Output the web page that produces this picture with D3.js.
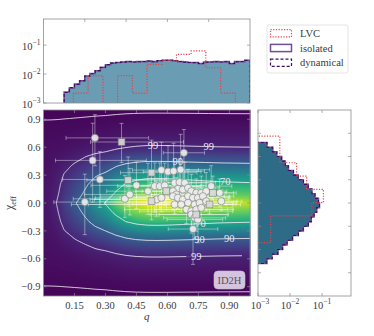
<!DOCTYPE html>
<html>
<head>
<meta charset="utf-8">
<script src="https://cdn.jsdelivr.net/npm/d3@7"></script>
<style>
  body { margin: 0; background: #fff; }
  text { font-family: "Liberation Serif", "DejaVu Serif", serif; fill: #3a3a3a; }
</style>
</head>
<body>
<svg id="chart" width="374" height="336"></svg>
<script>
// ---- data ----
// marginal of q (top panel), bins 0.1 .. 1.0 every 0.025
const qBinStart = 0.1, qBinWidth = 0.025
const isolatedQ = [0.0024, 0.0033, 0.0045, 0.0058, 0.0085, 0.0105, 0.013, 0.017, 0.021, 0.024,
    0.025, 0.026, 0.027, 0.026, 0.027, 0.027, 0.028, 0.027, 0.029, 0.030,
    0.030, 0.029, 0.027, 0.026, 0.025, 0.025, 0.023, 0.026, 0.026, 0.027,
    0.026, 0.027, 0.023, 0.027, 0.027, 0.030]
const dynamicalQ = [0.0023, 0.0034, 0.0044, 0.0059, 0.0086, 0.0103, 0.0132, 0.0168, 0.0212, 0.0238,
    0.0252, 0.0258, 0.0272, 0.0262, 0.0268, 0.0272, 0.0282, 0.0268, 0.0292, 0.0298,
    0.0302, 0.0288, 0.0272, 0.0258, 0.0252, 0.0248, 0.0232, 0.0258, 0.0262, 0.0268,
    0.0262, 0.0268, 0.0232, 0.0268, 0.0272, 0.0298]
const lvcQEdges = [0.145, 0.216, 0.288, 0.359, 0.430, 0.501, 0.573, 0.644, 0.715, 0.786, 0.858, 0.929, 1.0]
const lvcQ = [0.0022, 0.0088, 0, 0.0088, 0.0022, 0.0216, 0.030, 0.048, 0.063, 0.0165, 0.0022, 0]

// marginal of chi_eff (right panel), bins -0.65 .. 0.65 every 0.05 (bottom to top)
const chiBinStart = -0.65, chiBinWidth = 0.05
const isolatedChi = [0.0019, 0.0027, 0.0042, 0.0058, 0.008, 0.012, 0.018, 0.026, 0.037, 0.046,
    0.056, 0.068, 0.083, 0.077, 0.060, 0.048, 0.037, 0.026, 0.018, 0.0127,
    0.0089, 0.007, 0.0055, 0.0038, 0.0029, 0.0019]
const dynamicalChi = [0.0018, 0.0028, 0.0041, 0.0059, 0.0081, 0.0118, 0.0182, 0.0258, 0.0372, 0.0458,
    0.0562, 0.0678, 0.0828, 0.0772, 0.0598, 0.0482, 0.0368, 0.0262, 0.0178, 0.0128,
    0.0088, 0.0071, 0.0054, 0.0039, 0.0028, 0.0019]
const lvcChiEdges = [-0.425, -0.282, -0.139, 0.004, 0.147, 0.29, 0.433, 0.576, 0.72]
const lvcChi = [0.0025, 0.0025, 0.048, 0.11, 0.033, 0.016, 0.0048, 0.0048]

// joint density (relative): q profile x chi profile + a chi-only floor
const densQ = [0, 0.05, 0.1, 0.15, 0.2, 0.25, 0.3, 0.35, 0.4, 0.45, 0.5, 0.55, 0.6, 0.65, 0.7, 0.75, 0.8, 0.85, 0.9, 0.95, 1.0]
const densQVal = [0.005, 0.025, 0.09, 0.17, 0.27, 0.4, 0.5, 0.68, 0.84, 0.94, 0.99, 1.0, 0.99, 0.97, 0.95, 0.93, 0.91, 0.89, 0.88, 0.87, 0.86]
const densChi = [-1, -0.9, -0.8, -0.7, -0.6, -0.5, -0.4, -0.3, -0.2, -0.1, 0, 0.1, 0.2, 0.3, 0.4, 0.5, 0.6, 0.7, 0.8, 0.9, 1]
const densChiVal = [0.0012, 0.0025, 0.007, 0.016, 0.032, 0.085, 0.19, 0.37, 0.58, 0.78, 1.0, 0.75, 0.6, 0.43, 0.26, 0.13, 0.045, 0.022, 0.01, 0.0035, 0.0012]
const densFloorVal = [0.0025, 0.0048, 0.007, 0.009, 0.011, 0.013, 0.014, 0.015, 0.016, 0.016, 0.016,
    0.016, 0.016, 0.015, 0.014, 0.013, 0.011, 0.009, 0.007, 0.0048, 0.0025]
const contourLevels = [0.005, 0.05, 0.2, 0.5]
const contourNames = ['', '99', '90', '70']

// observed events
const evQ = [0.249, 0.378, 0.238, 0.680, 0.273, 0.410, 0.523, 0.571, 0.603, 0.630,
    0.664, 0.200, 0.450, 0.394, 0.418, 0.506, 0.539, 0.563, 0.587, 0.635,
    0.659, 0.684, 0.595, 0.651, 0.675, 0.700, 0.523, 0.547, 0.571, 0.627,
    0.643, 0.716, 0.740, 0.764, 0.788, 0.812, 0.820, 0.853, 0.627, 0.651,
    0.675, 0.700, 0.724, 0.748, 0.772, 0.635, 0.667, 0.700, 0.732, 0.756,
    0.788, 0.804, 0.861, 0.692, 0.716, 0.740, 0.764, 0.716, 0.732, 0.748,
    0.724, 0.740]
const evChi = [0.700, 0.656, 0.458, 0.540, 0.253, 0.245, 0.326, 0.354, 0.337, 0.343,
    0.358, 0.010, 0.190, 0.045, 0.092, 0.127, 0.181, 0.181, 0.189, 0.217,
    0.224, 0.217, 0.127, 0.153, 0.145, 0.163, 0.019, 0.038, 0.056, 0.127,
    0.092, 0.127, 0.109, 0.109, 0.127, 0.181, 0.109, 0.109, 0.073, 0.056,
    0.038, 0.073, 0.056, 0.056, 0.073, -0.016, -0.016, 0.002, -0.016, 0.002,
    0.019, -0.016, 0.019, -0.070, -0.088, -0.070, -0.052, -0.124, -0.160, -0.178,
    -0.280, -0.124]
const evShape = ['c', 's', 'c', 'c', 'c', 's', 's', 'c', 'c', 'c',
    'c', 'c', 'c', 'c', 'c', 'c', 'c', 'c', 'c', 'c',
    'c', 'c', 's', 'c', 'c', 'c', 's', 'c', 'c', 'c',
    'c', 'c', 'c', 'c', 'c', 'c', 's', 'c', 'c', 'c',
    'c', 'c', 'c', 'c', 'c', 'c', 'c', 'c', 'c', 'c',
    'c', 's', 'c', 'c', 'c', 'c', 'c', 'c', 'c', 'c',
    'c', 's']
const qErrLo = [0.14, 0.15, 0.18, 0.10, 0.18, 0.20, 0.15, 0.14, 0.12, 0.12,
    0.10, 0.15, 0.22, 0.25, 0.22, 0.20, 0.18, 0.16, 0.15, 0.12,
    0.12, 0.10, 0.15, 0.12, 0.10, 0.10, 0.25, 0.30, 0.20, 0.15,
    0.14, 0.12, 0.10, 0.10, 0.10, 0.10, 0.12, 0.10, 0.35, 0.40,
    0.45, 0.25, 0.30, 0.20, 0.15, 0.50, 0.45, 0.40, 0.30, 0.25,
    0.20, 0.18, 0.15, 0.30, 0.25, 0.20, 0.20, 0.20, 0.15, 0.15,
    0.12, 0.18]
const qErrHi = [0.26, 0.30, 0.26, 0.10, 0.32, 0.25, 0.22, 0.18, 0.16, 0.15,
    0.14, 0.30, 0.25, 0.30, 0.28, 0.25, 0.22, 0.20, 0.20, 0.18,
    0.15, 0.15, 0.20, 0.18, 0.15, 0.15, 0.30, 0.25, 0.25, 0.20,
    0.18, 0.15, 0.12, 0.12, 0.10, 0.10, 0.10, 0.08, 0.25, 0.20,
    0.22, 0.20, 0.18, 0.15, 0.15, 0.25, 0.25, 0.22, 0.20, 0.18,
    0.15, 0.15, 0.10, 0.20, 0.20, 0.18, 0.15, 0.18, 0.15, 0.12,
    0.12, 0.15]
const chiErrLo = [0.30, 0.22, 0.45, 0.35, 0.30, 0.28, 0.30, 0.35, 0.30, 0.32,
    0.30, 0.35, 0.25, 0.20, 0.22, 0.25, 0.28, 0.25, 0.22, 0.25,
    0.22, 0.20, 0.20, 0.18, 0.20, 0.18, 0.20, 0.18, 0.15, 0.18,
    0.16, 0.15, 0.15, 0.15, 0.18, 0.20, 0.15, 0.15, 0.15, 0.12,
    0.10, 0.12, 0.12, 0.10, 0.12, 0.10, 0.08, 0.08, 0.10, 0.08,
    0.10, 0.10, 0.10, 0.15, 0.18, 0.15, 0.12, 0.20, 0.22, 0.25,
    0.38, 0.18]
const chiErrHi = [0.25, 0.20, 0.40, 0.25, 0.30, 0.25, 0.35, 0.30, 0.28, 0.30,
    0.38, 0.30, 0.25, 0.25, 0.28, 0.30, 0.25, 0.25, 0.24, 0.22,
    0.25, 0.22, 0.22, 0.20, 0.20, 0.20, 0.18, 0.20, 0.18, 0.20,
    0.18, 0.18, 0.15, 0.18, 0.20, 0.22, 0.18, 0.15, 0.15, 0.14,
    0.12, 0.14, 0.12, 0.12, 0.12, 0.10, 0.10, 0.08, 0.10, 0.10,
    0.10, 0.10, 0.12, 0.12, 0.15, 0.12, 0.12, 0.15, 0.18, 0.20,
    0.25, 0.15]

const qTicks = [0.15, 0.30, 0.45, 0.60, 0.75, 0.90, 1.05]
const chiTicks = [-0.9, -0.6, -0.3, 0.0, 0.3, 0.6, 0.9]
const logTicks = [1e-3, 1e-2, 1e-1]
const legendNames = ['LVC', 'isolated', 'dynamical']
const panelTag = 'ID2H'

// ---- layout ----
const main = {x0: 43.5, x1: 250, y0: 110, y1: 296}
const topP = {y0: 19, y1: 103}
const rightP = {x0: 258, x1: 351}

const lvcColor = '#e8424a'
const isoColor = '#6e4f95'
const dynColor = '#3d0d5e'

const x = d3.scaleLinear().domain([0, 1]).range([main.x0, main.x1])
const y = d3.scaleLinear().domain([-1, 1]).range([main.y1, main.y0])
const yTop = d3.scaleLog().domain([1e-3, 0.8]).range([topP.y1, topP.y0])
const xRight = d3.scaleLog().domain([1e-3, 0.8]).range([rightP.x0, rightP.x1])
const colour = d3.scaleSequentialPow(d3.interpolateViridis).exponent(0.75).domain([0, 1])

const svg = d3.select('#chart')
const defs = svg.append('defs')
function clip(id, x0, y0, x1, y1) {
    defs.append('clipPath').attr('id', id)
        .append('rect').attr('x', x0).attr('y', y0).attr('width', x1 - x0).attr('height', y1 - y0)
}
clip('clipMain', main.x0, main.y0, main.x1, main.y1)
clip('clipTop', main.x0, topP.y0, main.x1, topP.y1)
clip('clipRight', rightP.x0, main.y0, rightP.x1, main.y1)
clip('clipXLab', 0, 0, 250.5, 336)

// ---- joint density heatmap ----
const fq = d3.scaleLinear().domain(densQ).range(densQVal.map(Math.log)).clamp(true)
const gc = d3.scaleLinear().domain(densChi).range(densChiVal.map(Math.log)).clamp(true)
const hc = d3.scaleLinear().domain(densChi).range(densFloorVal).clamp(true)
const dens = (q, c) => Math.exp(fq(q) + gc(c)) + hc(c)

const pad = 4
const W = Math.round(main.x1 - main.x0), H = Math.round(main.y1 - main.y0)
const gw = W + 2 * pad, gh = H + 2 * pad
const grid = new Float64Array(gw * gh)
for (let j = 0; j < gh; j++) {
    for (let i = 0; i < gw; i++) {
        grid[j * gw + i] = dens(x.invert(main.x0 - pad + i + 0.5), y.invert(main.y0 - pad + j + 0.5))
    }
}
const canvas = document.createElement('canvas')
canvas.width = W; canvas.height = H
const ctx = canvas.getContext('2d')
const img = ctx.createImageData(W, H)
for (let j = 0; j < H; j++) {
    for (let i = 0; i < W; i++) {
        const c = d3.rgb(colour(Math.min(1, grid[(j + pad) * gw + i + pad])))
        const k = (j * W + i) * 4
        img.data[k] = c.r; img.data[k + 1] = c.g; img.data[k + 2] = c.b; img.data[k + 3] = 255
    }
}
ctx.putImageData(img, 0, 0)

const mainG = svg.append('g')
mainG.append('image')
    .attr('x', main.x0).attr('y', main.y0).attr('width', W).attr('height', H)
    .attr('preserveAspectRatio', 'none')
    .attr('href', canvas.toDataURL())

// contour labels (positions found on the contour itself)
const labelSpots = [
    {name: '99', q: 0.53, side: 1}, {name: '99', q: 0.80, side: 1},
    {name: '90', q: 0.65, side: 1}, {name: '70', q: 0.88, side: 1},
    {name: '70', q: 0.76, side: -1}, {name: '90', q: 0.755, side: -1},
    {name: '90', q: 0.90, side: -1}, {name: '99', q: 0.74, side: -1}
]
labelSpots.forEach(s => {
    const lvl = contourLevels[contourNames.indexOf(s.name)]
    let c = -0.02
    while (Math.abs(c) < 1 && dens(s.q, c) > lvl) c += s.side * 0.002
    s.chi = c
})

const mask = defs.append('mask').attr('id', 'clabMask')
    .attr('maskUnits', 'userSpaceOnUse').attr('x', 0).attr('y', 0).attr('width', 374).attr('height', 336)
mask.append('rect').attr('x', 0).attr('y', 0).attr('width', 374).attr('height', 336).attr('fill', '#fff')

const contours = d3.contours().size([gw, gh]).thresholds(contourLevels)(grid)
mainG.append('g')
    .attr('clip-path', 'url(#clipMain)')
    .append('g')
    .attr('mask', 'url(#clabMask)')
    .attr('transform', `translate(${main.x0 - pad},${main.y0 - pad})`)
    .selectAll('path')
    .data(contours)
    .join('path')
    .attr('d', d3.geoPath())
    .attr('fill', 'none')
    .attr('stroke', '#f4f0f8')
    .attr('stroke-width', 0.9)
    .attr('stroke-opacity', 0.9)

const clabs = mainG.append('g').selectAll('text')
    .data(labelSpots)
    .join('text')
    .attr('x', d => x(d.q)).attr('y', d => y(d.chi) + 3.5)
    .attr('text-anchor', 'middle')
    .style('font-size', '10.5px')
    .style('fill', '#ece6f2')
    .text(d => d.name)
clabs.each(function () {
    const b = this.getBBox()
    mask.append('rect').attr('x', b.x - 1).attr('y', b.y).attr('width', b.width + 2).attr('height', b.height).attr('fill', '#000')
})

// ---- events with error bars ----
const events = evQ.map((q, i) => ({
    q, chi: evChi[i], shape: evShape[i],
    qlo: Math.max(0, q - qErrLo[i]), qhi: Math.min(1, q + qErrHi[i]),
    clo: evChi[i] - chiErrLo[i], chi_hi: evChi[i] + chiErrHi[i]
}))
const errG = mainG.append('g').attr('clip-path', 'url(#clipMain)')
    .attr('stroke', '#ffffff').attr('stroke-opacity', 0.5).attr('stroke-width', 0.8)
const cap = 2
events.forEach(e => {
    errG.append('line').attr('x1', x(e.qlo)).attr('x2', x(e.qhi)).attr('y1', y(e.chi)).attr('y2', y(e.chi))
    errG.append('line').attr('x1', x(e.q)).attr('x2', x(e.q)).attr('y1', y(e.clo)).attr('y2', y(e.chi_hi))
    ;[e.qlo, e.qhi].forEach(v => errG.append('line')
        .attr('x1', x(v)).attr('x2', x(v)).attr('y1', y(e.chi) - cap).attr('y2', y(e.chi) + cap))
    ;[e.clo, e.chi_hi].forEach(v => errG.append('line')
        .attr('x1', x(e.q) - cap).attr('x2', x(e.q) + cap).attr('y1', y(v)).attr('y2', y(v)))
})
const ptG = mainG.append('g').attr('clip-path', 'url(#clipMain)')
ptG.selectAll('circle').data(events.filter(e => e.shape === 'c')).join('circle')
    .attr('cx', d => x(d.q)).attr('cy', d => y(d.chi)).attr('r', 3.6)
    .attr('fill', '#ededed').attr('fill-opacity', 0.9)
    .attr('stroke', '#7a7a7a').attr('stroke-width', 0.6)
ptG.selectAll('rect').data(events.filter(e => e.shape === 's')).join('rect')
    .attr('x', d => x(d.q) - 3.4).attr('y', d => y(d.chi) - 3.4).attr('width', 6.8).attr('height', 6.8)
    .attr('fill', '#d8d8d8').attr('fill-opacity', 0.9)
    .attr('stroke', '#7a7a7a').attr('stroke-width', 0.6)

// tag box
mainG.append('rect').attr('x', 214).attr('y', 271).attr('width', 31).attr('height', 18).attr('rx', 4)
    .attr('fill', '#e4d8ec').attr('fill-opacity', 0.9).attr('stroke', '#c8bcd2').attr('stroke-width', 0.6)
mainG.append('text').attr('x', 229.5).attr('y', 284).attr('text-anchor', 'middle')
    .style('font-size', '10.5px').style('fill', '#555').text(panelTag)

// ---- frames and ticks ----
function frame(x0, y0, x1, y1) {
    svg.append('rect').attr('x', x0).attr('y', y0).attr('width', x1 - x0).attr('height', y1 - y0)
        .attr('fill', 'none').attr('stroke', '#8c8c8c').attr('stroke-width', 0.8)
}
function tick(x1, y1, x2, y2) {
    svg.append('line').attr('x1', x1).attr('y1', y1).attr('x2', x2).attr('y2', y2)
        .attr('stroke', '#8c8c8c').attr('stroke-width', 0.7)
}
const tl = 3
frame(main.x0, main.y0, main.x1, main.y1)
qTicks.filter(v => v <= 1).forEach(v => { tick(x(v), main.y1, x(v), main.y1 - tl); tick(x(v), main.y0, x(v), main.y0 + tl) })
chiTicks.forEach(v => { tick(main.x0, y(v), main.x0 + tl, y(v)); tick(main.x1, y(v), main.x1 - tl, y(v)) })

const xLabG = svg.append('g').attr('clip-path', 'url(#clipXLab)')
xLabG.selectAll('text').data(qTicks).join('text')
    .attr('x', d => x(d)).attr('y', main.y1 + 12.5).attr('text-anchor', 'middle')
    .style('font-size', '10.5px').text(d3.format('.2f'))
svg.append('g').selectAll('text').data(chiTicks).join('text')
    .attr('x', main.x0 - 3).attr('y', d => y(d) + 3.6).attr('text-anchor', 'end')
    .style('font-size', '10.5px').text(d3.format('.1f'))

svg.append('text').attr('x', (main.x0 + main.x1) / 2).attr('y', 320).attr('text-anchor', 'middle')
    .style('font-size', '11px').style('font-style', 'italic').text('q')
const yl = svg.append('text').attr('transform', `translate(13,${y(0)}) rotate(-90)`).attr('text-anchor', 'middle')
    .style('font-size', '12px')
yl.append('tspan').text('χ')
yl.append('tspan').attr('dy', 2.5).style('font-size', '8px').text('eff')

// ---- histogram helpers ----
function stepPoints(edges, vals) {
    const pts = [[edges[0], 0]]
    vals.forEach((v, i) => { pts.push([edges[i], v]); pts.push([edges[i + 1], v]) })
    pts.push([edges[edges.length - 1], 0])
    return pts
}
const floorV = 1e-4
const supLabel = (sel, v) => {
    sel.append('tspan').text('10')
    sel.append('tspan').attr('dy', -4.5).style('font-size', '7.5px').text('−' + Math.round(-Math.log10(v)))
}

// ---- top panel: q marginal ----
const qEdges = d3.range(isolatedQ.length + 1).map(i => qBinStart + i * qBinWidth)
const topG = svg.append('g').attr('clip-path', 'url(#clipTop)')
const topLine = d3.line().x(d => x(d[0])).y(d => yTop(Math.max(d[1], floorV)))
const topArea = d3.area().x(d => x(d[0])).y0(yTop(floorV)).y1(d => yTop(Math.max(d[1], floorV)))
topG.append('path').datum(stepPoints(qEdges, isolatedQ)).attr('d', topArea).attr('fill', '#6a9cb3')
topG.append('path').datum(stepPoints(qEdges, isolatedQ)).attr('d', topLine)
    .attr('fill', 'none').attr('stroke', isoColor).attr('stroke-width', 1.6)
topG.append('path').datum(stepPoints(qEdges, dynamicalQ)).attr('d', topLine)
    .attr('fill', 'none').attr('stroke', dynColor).attr('stroke-width', 1.1).attr('stroke-dasharray', '3,2')
topG.append('path').datum(stepPoints(lvcQEdges, lvcQ)).attr('d', topLine)
    .attr('fill', 'none').attr('stroke', lvcColor).attr('stroke-width', 1.2).attr('stroke-dasharray', '1.2,1.5')
frame(main.x0, topP.y0, main.x1, topP.y1)
;[0.2, 0.4, 0.6, 0.8].forEach(v => { tick(x(v), topP.y1, x(v), topP.y1 - tl); tick(x(v), topP.y0, x(v), topP.y0 + tl) })
logTicks.forEach(v => { tick(main.x0, yTop(v), main.x0 + tl, yTop(v)); tick(main.x1, yTop(v), main.x1 - tl, yTop(v)) })
logTicks.forEach(v => {
    const t = svg.append('text').attr('x', main.x0 - 3).attr('y', yTop(v) + 4.5).attr('text-anchor', 'end')
        .style('font-size', '10.5px')
    supLabel(t, v)
})

// ---- right panel: chi marginal ----
const chiEdges = d3.range(isolatedChi.length + 1).map(i => chiBinStart + i * chiBinWidth)
svg.append('rect').attr('x', rightP.x0).attr('y', main.y0).attr('width', rightP.x1 - rightP.x0)
    .attr('height', main.y1 - main.y0).attr('fill', '#fff')
const rightG = svg.append('g').attr('clip-path', 'url(#clipRight)')
const rLine = d3.line().x(d => xRight(Math.max(d[1], floorV))).y(d => y(d[0]))
const rArea = d3.area().y(d => y(d[0])).x0(xRight(floorV)).x1(d => xRight(Math.max(d[1], floorV)))
rightG.append('path').datum(stepPoints(chiEdges, isolatedChi)).attr('d', rArea).attr('fill', '#2d6b87')
rightG.append('path').datum(stepPoints(chiEdges, isolatedChi)).attr('d', rLine)
    .attr('fill', 'none').attr('stroke', isoColor).attr('stroke-width', 1.6)
rightG.append('path').datum(stepPoints(chiEdges, dynamicalChi)).attr('d', rLine)
    .attr('fill', 'none').attr('stroke', dynColor).attr('stroke-width', 1.1).attr('stroke-dasharray', '3,2')
rightG.append('path').datum(stepPoints(lvcChiEdges, lvcChi)).attr('d', rLine)
    .attr('fill', 'none').attr('stroke', lvcColor).attr('stroke-width', 1.2).attr('stroke-dasharray', '1.2,1.5')
frame(rightP.x0, main.y0, rightP.x1, main.y1)
;[-0.75, -0.5, -0.25, 0, 0.25, 0.5, 0.75].forEach(v => { tick(rightP.x0, y(v), rightP.x0 + tl, y(v)); tick(rightP.x1, y(v), rightP.x1 - tl, y(v)) })
logTicks.forEach(v => { tick(xRight(v), main.y1, xRight(v), main.y1 - tl); tick(xRight(v), main.y0, xRight(v), main.y0 + tl) })
logTicks.forEach(v => {
    const t = svg.append('text').attr('x', xRight(v) + (v === 1e-3 ? 2 : 0)).attr('y', main.y1 + 12.5).attr('text-anchor', 'middle')
        .style('font-size', '10.5px')
    supLabel(t, v)
})

// ---- legend ----
const lg = svg.append('g').attr('transform', 'translate(267,25)')
lg.append('rect').attr('width', 81).attr('height', 48).attr('rx', 2)
    .attr('fill', '#fff').attr('stroke', '#dcdcdc').attr('stroke-width', 0.8)
const legendStyle = [
    {stroke: lvcColor, dash: '1.2,1.5', w: 1.2},
    {stroke: isoColor, dash: null, w: 1.5},
    {stroke: dynColor, dash: '3,2', w: 1.2}
]
legendNames.forEach((name, i) => {
    const yy = 8.3 + i * 14.7
    lg.append('rect').attr('x', 3.5).attr('y', yy - 3.6).attr('width', 21).attr('height', 7.2)
        .attr('fill', 'none').attr('stroke', legendStyle[i].stroke).attr('stroke-width', legendStyle[i].w)
        .attr('stroke-dasharray', legendStyle[i].dash)
    lg.append('text').attr('x', 33).attr('y', yy + 3.5).style('font-size', '10.5px').text(name)
})
</script>
</body>
</html>
